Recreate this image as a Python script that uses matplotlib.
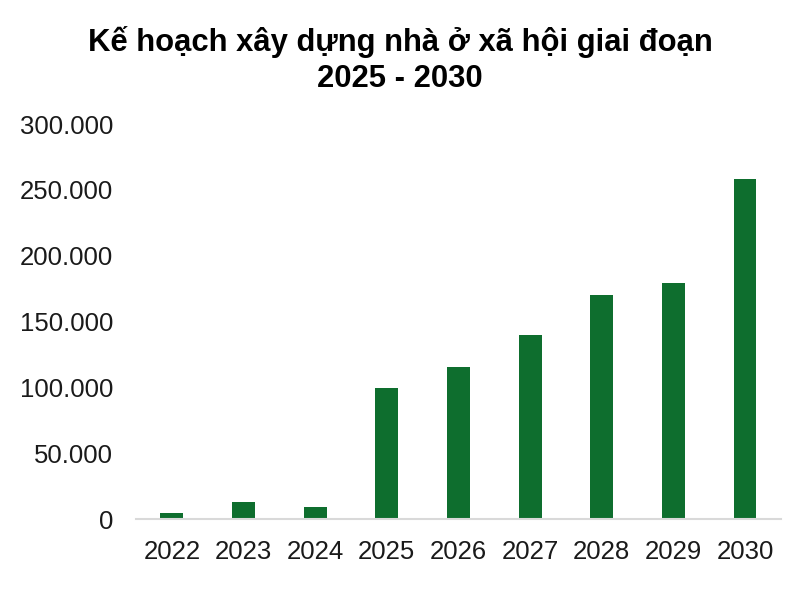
import matplotlib
matplotlib.use("Agg")
import matplotlib.pyplot as plt
from matplotlib.ticker import FuncFormatter

years = ["2022", "2023", "2024", "2025", "2026", "2027", "2028", "2029", "2030"]
units = [4500, 13500, 9300, 100000, 115500, 139500, 170000, 179000, 258000]
yticks = [0, 50000, 100000, 150000, 200000, 250000, 300000]
title_lines = ["Kế hoạch xây dựng nhà ở xã hội giai đoạn", "2025 - 2030"]

plt.rcParams['font.family'] = ['Liberation Sans', 'DejaVu Sans']

fig = plt.figure(figsize=(8, 6), dpi=100)
ax = fig.add_axes([0.17, 0.1345, 0.806, 0.6588])
ax.bar(years, units, width=0.32, color='#0e6e2e')
ax.set_ylim(0, 300000)
ax.set_xlim(-0.5, len(years) - 0.5)
ax.set_yticks(yticks)
ax.yaxis.set_major_formatter(FuncFormatter(lambda v, p: f"{int(v):,}".replace(",", ".")))
ax.tick_params(axis='y', length=0, pad=16.5, labelsize=18.5, labelcolor='#1a1a1a')
ax.tick_params(axis='x', length=0, pad=15, labelsize=18.5, labelcolor='#1a1a1a')
for s in ['top', 'right', 'left']:
    ax.spines[s].set_visible(False)
ax.spines['bottom'].set_color('#d9d9d9')
ax.spines['bottom'].set_linewidth(1.5)

# two title lines, baselines
fig.text(0.5, 0.9155, title_lines[0], ha='center', va='baseline',
         fontsize=22.3, fontweight='bold')
fig.text(0.5, 0.8555, title_lines[1], ha='center', va='baseline',
         fontsize=22.3, fontweight='bold')

fig.savefig("out.png", dpi=100)
